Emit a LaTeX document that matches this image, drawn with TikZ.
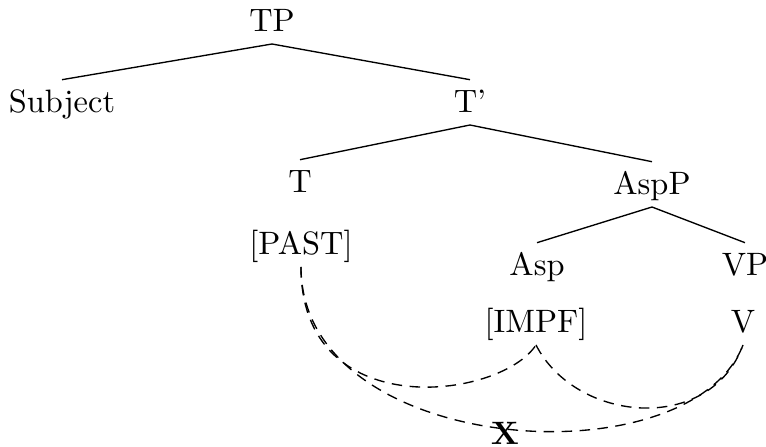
\documentclass[tikz,border=0pt]{standalone}
\begin{document}
\begin{tikzpicture}[x=0.33333pt,y=-0.33333pt,
  font=\fontsize{10.8}{13}\selectfont,
  lbl/.style={anchor=base,inner xsep=1pt,inner ysep=3.5pt,text height=7.4pt,text depth=0.3pt},
  branch/.style={line width=0.45pt},
  link/.style={line width=0.45pt,dash pattern=on 3.5pt off 2.5pt}]
\path[use as bounding box] (0,0) rectangle (766,447);
\node[lbl] (TP) at (272,32) {TP};
\node[lbl] (Subj) at (62,113) {Subject};
\node[lbl] (Tbar) at (470,113) {T'};
\node[lbl] (T) at (300,193) {T};
\node[lbl] (AspP) at (652,195) {AspP};
\node[lbl] (Past) at (301,255) {[PAST]};
\node[lbl] (Asp) at (537,276) {Asp};
\node[lbl] (VP) at (745,276) {VP};
\node[lbl] (Impf) at (536,333) {[IMPF]};
\node[lbl] (V) at (743,333) {V};
\node[anchor=base,inner sep=0pt,font=\fontsize{10.8}{13}\selectfont\bfseries] (X) at (505,445) {X};
\draw[branch] (TP.south) -- (Subj.north);
\draw[branch] (TP.south) -- (Tbar.north);
\draw[branch] (Tbar.south) -- (T.north);
\draw[branch] (Tbar.south) -- (AspP.north);
\draw[branch] (AspP.south) -- (Asp.north);
\draw[branch] (AspP.south) -- (VP.north);
\draw[link] (Past.south) .. controls +(0,158) and +(-36,55) .. (Impf.south);
\draw[link] (Past.south) .. controls +(0,190) and +(-53,137) .. (V.south);
\draw[link] (Impf.south) .. controls +(40,78) and +(-33,90) .. (V.south);
\end{tikzpicture}
\end{document}
